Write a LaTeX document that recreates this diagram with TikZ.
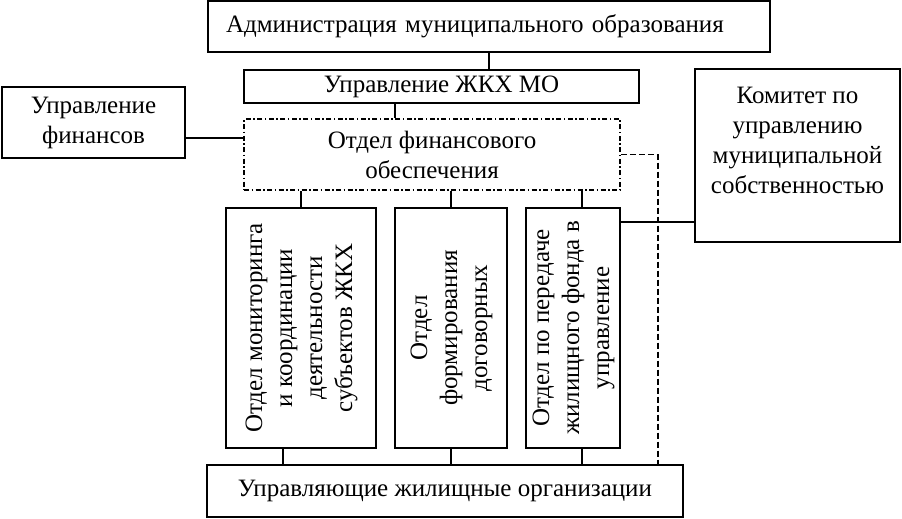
\documentclass[tikz,border=0pt]{standalone}
\usepackage{fontspec}
\setmainfont{Liberation Serif}
\usepackage{graphicx}
\usetikzlibrary{calc}
\usetikzlibrary{positioning}

\begin{document}
\begin{tikzpicture}[x=1pt, y=-1pt,
    font=\fontsize{25}{30}\selectfont,
    box/.style={draw, line width=1.6pt, inner sep=0pt, align=center},
    vbox/.style={draw, line width=1.6pt, inner sep=0pt},
    dashbox/.style={box, dash pattern=on 5pt off 2.5pt on 1.5pt off 2.5pt},
    link/.style={line width=1.6pt},
    dashlink/.style={link, dash pattern=on 6pt off 3pt}]
  \useasboundingbox (0,0) rectangle (902,519);

  \node [box, align=left, text width=526pt, minimum width=562pt, minimum height=51pt] (adm) at (489,26.5)
    {Администрация муниципального образования};
  \node [box, minimum width=395pt, minimum height=33pt] (zhkh) at (441.5,86.5)
    {Управление ЖКХ МО};
  \node [box, minimum width=183pt, minimum height=71pt] (fin) at (93.5,122.5)
    {Управление\\финансов};
  \node [dashbox, minimum width=376pt, minimum height=71pt] (ofo) at (432,154.5)
    {Отдел финансового\\обеспечения};
  \node [box, minimum width=205pt, minimum height=173pt] (kom) at (797.5,155.5)
    {Комитет по\\управлению\\муниципальной\\собственностью\\\mbox{}};

  \node [vbox, minimum width=150pt, minimum height=240pt] (otd1) at (301,328)
    {\rotatebox{90}{\begin{tabular}{@{}c@{}}Отдел мониторинга\\и координации\\деятельности\\субъектов ЖКХ\end{tabular}}};
  \node [vbox, minimum width=112pt, minimum height=240pt] (otd2) at (451,328)
    {\rotatebox{90}{\begin{tabular}{@{}c@{}}Отдел\\формирования\\договорных\end{tabular}}};
  \node [vbox, minimum width=94pt, minimum height=240pt] (otd3) at (573,328)
    {\rotatebox{90}{\begin{tabular}{@{}c@{}}Отдел по передаче\\жилищного фонда в\\управление\end{tabular}}};

  \node [box, minimum width=476pt, minimum height=52pt] (upr) at (445,491)
    {Управляющие жилищные организации};

  \draw [link] (adm.south) -- (adm.south |- zhkh.north);
  \draw [link] ([xshift=-46.5pt]zhkh.south) coordinate (z) -- (z |- ofo.north);
  \draw [link] ([yshift=-15.5pt]fin.east) coordinate (f) -- (f -| ofo.west);
  \draw [link] (otd1.north) -- (otd1.north |- ofo.south);
  \draw [link] (otd2.north) -- (otd2.north |- ofo.south);
  \draw [link] ([xshift=9pt]otd3.north) coordinate (c) -- (c |- ofo.south);
  \draw [link] ([xshift=-18pt]otd1.south) coordinate (a) -- (a |- upr.north);
  \draw [link] (otd2.south) -- (otd2.south |- upr.north);
  \draw [link] ([xshift=9pt]otd3.south) coordinate (d) -- (d |- upr.north);
  \draw [link] ([yshift=-15pt]otd3.north east) coordinate (k) -- (k -| kom.west);
  \draw [dashlink] (ofo.east) -| ([xshift=-26pt]upr.north east);
\end{tikzpicture}
\end{document}
